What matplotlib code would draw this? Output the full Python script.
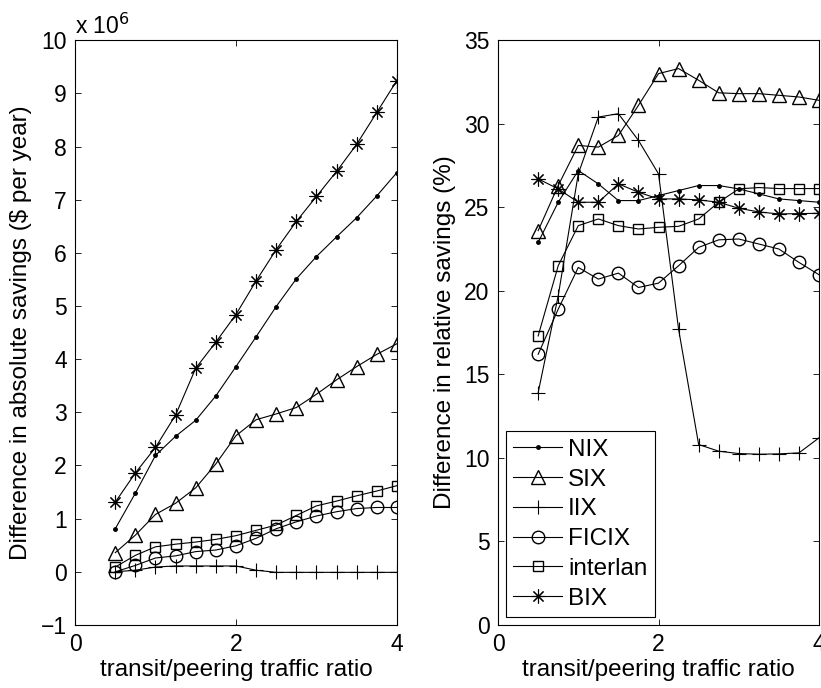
import matplotlib
matplotlib.use("Agg")
import matplotlib.pyplot as plt

plt.rcParams['font.family'] = ['Liberation Sans', 'DejaVu Sans']
plt.rcParams['font.size'] = 16.5

# transit/peering traffic ratio
ratio = [0.5, 0.75, 1.0, 1.25, 1.5, 1.75, 2.0, 2.25, 2.5, 2.75, 3.0, 3.25, 3.5, 3.75, 4.0]

# absolute savings difference, millions of $ per year
abs_nix = [0.81, 1.48, 2.19, 2.55, 2.85, 3.31, 3.86, 4.42, 4.99, 5.51, 5.93, 6.30, 6.66, 7.07, 7.51]
abs_six = [0.36, 0.69, 1.08, 1.29, 1.58, 2.03, 2.56, 2.86, 2.97, 3.09, 3.34, 3.61, 3.86, 4.09, 4.29]
abs_iix = [0.0, 0.03, 0.09, 0.11, 0.11, 0.11, 0.11, 0.03, -0.01, -0.01, -0.01, -0.01, -0.01, -0.01, -0.01]
abs_ficix = [0.0, 0.12, 0.26, 0.30, 0.38, 0.41, 0.49, 0.63, 0.81, 0.94, 1.05, 1.13, 1.19, 1.21, 1.21]
abs_interlan = [0.09, 0.31, 0.47, 0.52, 0.56, 0.61, 0.68, 0.78, 0.88, 1.06, 1.24, 1.33, 1.43, 1.52, 1.62]
abs_bix = [1.31, 1.86, 2.34, 2.95, 3.83, 4.32, 4.84, 5.47, 6.06, 6.59, 7.06, 7.53, 8.04, 8.64, 9.24]

# relative savings difference, %
rel_nix = [22.9, 25.3, 27.2, 26.4, 25.4, 25.4, 25.7, 26.0, 26.3, 26.3, 26.1, 25.8, 25.5, 25.4, 25.3]
rel_six = [23.6, 26.3, 28.7, 28.6, 29.3, 31.1, 33.0, 33.3, 32.6, 31.85, 31.8, 31.8, 31.7, 31.6, 31.4]
rel_iix = [13.9, 19.7, 27.0, 30.4, 30.6, 29.0, 27.0, 17.7, 10.8, 10.4, 10.26, 10.22, 10.24, 10.3, 11.2]
rel_ficix = [16.2, 18.9, 21.4, 20.7, 21.06, 20.2, 20.46, 21.5, 22.6, 23.05, 23.1, 22.8, 22.5, 21.7, 20.96]
rel_interlan = [17.3, 21.5, 23.9, 24.3, 23.9, 23.7, 23.8, 23.86, 24.3, 25.3, 26.1, 26.18, 26.12, 26.12, 26.12]
rel_bix = [26.7, 26.1, 25.3, 25.3, 26.4, 25.9, 25.5, 25.5, 25.44, 25.3, 24.94, 24.72, 24.6, 24.62, 24.64]

names = ['NIX', 'SIX', 'IIX', 'FICIX', 'interlan', 'BIX']
# matlab-ish marker set; BIX uses an 8-arm asterisk like MATLAB's '*'
markers = {
    'NIX': dict(marker='.', markersize=5),
    'SIX': dict(marker='^', markersize=10, markerfacecolor='none'),
    'IIX': dict(marker='+', markersize=10, markeredgewidth=0.8),
    'FICIX': dict(marker='o', markersize=9, markerfacecolor='none'),
    'interlan': dict(marker='s', markersize=7, markerfacecolor='none'),
    'BIX': dict(marker=(8, 2, 0), markersize=10, markeredgewidth=0.8),
}
abs_data = [abs_nix, abs_six, abs_iix, abs_ficix, abs_interlan, abs_bix]
rel_data = [rel_nix, rel_six, rel_iix, rel_ficix, rel_interlan, rel_bix]

fig = plt.figure(figsize=(8.21, 6.88), dpi=100)
ax1 = fig.add_axes([0.0914, 0.0916, 0.392, 0.850])
ax2 = fig.add_axes([0.6066, 0.0916, 0.391, 0.850])

for name, vals in zip(names, abs_data):
    ax1.plot(ratio, vals, color='black', linewidth=0.8, label=name, **markers[name])
for name, vals in zip(names, rel_data):
    ax2.plot(ratio, vals, color='black', linewidth=0.8, label=name, **markers[name])

ax1.set_xlim(0, 4)
ax1.set_ylim(-1, 10)
ax1.set_xticks([0, 2, 4])
ax1.set_yticks(range(-1, 11))
ax1.set_yticklabels(['\u22121'] + [str(v) for v in range(0, 11)])
ax1.set_xlabel('transit/peering traffic ratio', fontsize=17.5, labelpad=2)
ax1.set_ylabel('Difference in absolute savings ($ per year)', fontsize=17.5, labelpad=6)
ax1.text(0.0, 1.003, 'x 10$^6$', transform=ax1.transAxes, ha='left', va='bottom', fontsize=16.5)

ax2.set_xlim(0, 4)
ax2.set_ylim(0, 35)
ax2.set_xticks([0, 2, 4])
ax2.set_yticks(range(0, 36, 5))
ax2.set_xlabel('transit/peering traffic ratio', fontsize=17.5, labelpad=2)
ax2.set_ylabel('Difference in relative savings (%)', fontsize=17.5, labelpad=6)
leg = ax2.legend(loc='lower left', fancybox=False, edgecolor='black', handlelength=2.0,
                 handletextpad=0.25, labelspacing=0.32, borderpad=0.3, borderaxespad=0.33,
                 framealpha=1, fontsize=17.5)
leg.get_frame().set_linewidth(0.8)

for ax in (ax1, ax2):
    ax.tick_params(direction='in', top=True, right=True, length=4, width=0.6, pad=6)
    for sp in ax.spines.values():
        sp.set_linewidth(0.8)

fig.savefig('out.png', dpi=100)
